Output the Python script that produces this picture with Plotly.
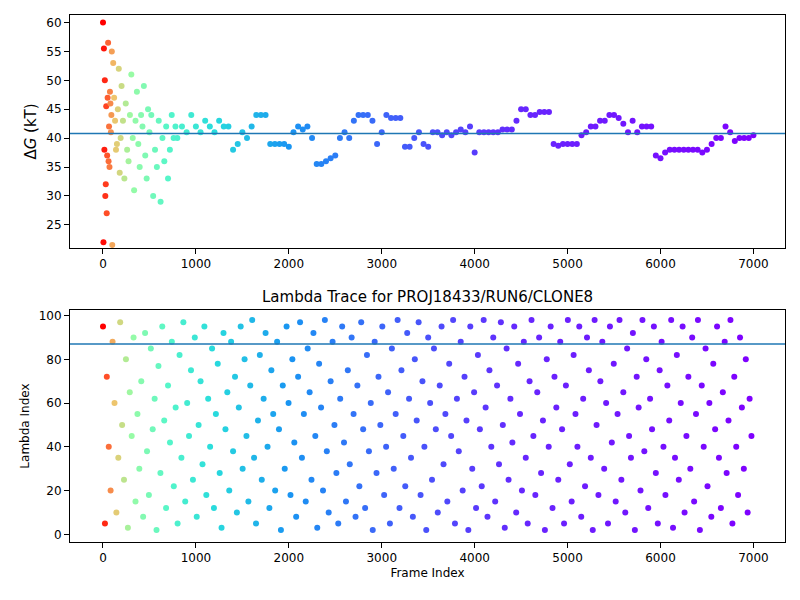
import plotly.graph_objects as go
import math

# Early scattered Delta G estimates (frame, value)
early_frames = [0,5,10,15,20,25,30,35,40,45,50,55,60,65,70,75,80,85,90,95,100,110,120,130,140,150,160,170,180,190,200,
                215,230,245,260,275,290,305,320,335,350,365,380,395,410,425,440,455,470,485,500,520,540,560,580,600,620,640,660,680,700,720,740,760,780]
early_values = [60,22,55.5,38,50,30,32,45.5,27,37,47,56.5,36,42,35,48,46,41,44,55,21.5,53,47,43,38,39,45,52,34,40,49,
                43,33,46,38,36,44,51,40,31,43,48,39,35,44,42,49,37,33,45,41,44,30,38,35,43,29,40,36,42,33,38,44,40,42]

late_frames = list(range(800, 7001, 50))
late_values = [40,42,41,44,42,41,43,42,41,43,42,42,38,39,41,40,42,44,44,44,39,39,39,39,38.5,41,42,41.5,42,40,
               35.5,35.5,36,36.5,37,40,41,40,43,44,44,44,43,39,41,44,43.5,43.5,43.5,38.5,38.5,40,41,39,38.5,41,41,40.5,41,40.5,
               41,41.5,41,42,37.5,41,41,41,41,41,41.5,41.5,41.5,43,45,45,44,44,44.5,44.5,44.5,39,38.7,39,39,39,39,40.5,41,42,
               42,43,43,44,44,43.5,42.5,41,43,41,42,42,42,37,36.5,37.5,38,38,38,38,38,38,38,37.5,38,39,40,40,42,41,39.5,40,
               40,40,40.5,41.3]

lam_values = [95,5,72,40,20,88,60,10,35,97,50,25,80,3,65,45,90,15,55,30,
              70,8,92,38,18,85,48,62,2,77,28,95,52,12,68,42,88,22,58,5,
              82,35,97,15,60,45,75,25,90,8,50,70,32,95,18,62,40,85,12,55,
              78,28,3,92,48,65,20,88,38,72,10,58,95,30,80,45,15,68,98,35,
              5,52,82,25,62,92,40,12,75,55,20,88,48,2,68,30,95,60,18,80,
              42,8,72,97,35,55,15,85,65,25,92,45,3,78,58,20,98,38,10,70,
              88,50,28,5,62,95,42,15,75,32,90,55,8,68,22,97,48,12,82,38,
              60,2,88,28,72,50,95,18,40,65,5,85,30,55,98,12,75,45,22,92,
              62,35,8,80,52,97,18,70,40,2,90,60,25,85,48,10,68,95,32,55,
              15,78,45,98,5,62,38,88,20,72,52,2,95,30,65,12,82,48,22,98,
              58,8,75,40,90,15,68,32,97,50,3,85,25,62,42,95,10,78,55,20,
              88,35,5,70,98,45,18,65,90,28,52,2,80,40,95,12,72,58,25,88,
              48,5,68,98,32,15,82,55,40,95,8,62,22,90,75,35,2,98,50,18,
              70,88,30,60,5,95,42,78,15,55,98,25,65,10,85,45,35,92,2,72,
              58,20,98,38,80,12,62,48,95,28,5,75,88,40,18,68,52,98,3,35,
              82,25,60,95,10,45,72,30,90,15,55,98,2,68,40,85,22,60,8,78,
              48,95,35,12,65,88,28,52,98,5,72,40,18,90,58,30,80,10,62,45]
lam_frames = [round(i * 7000 / len(lam_values)) for i in range(len(lam_values))]

def rainbow(x):
    r = min(1, abs(2 * x - 0.5)); g = math.sin(math.pi * x); b = math.cos(math.pi * x / 2)
    return f"rgb({int(r*255)},{int(g*255)},{int(max(b,0)*255)})"
# colour stops: (frame fraction, rainbow position)
stops = [(0, 1.0), (40/7000, 0.9), (120/7000, 0.72), (300/7000, 0.55), (700/7000, 0.42),
         (1200/7000, 0.33), (2000/7000, 0.2), (3000/7000, 0.13), (4500/7000, 0.05), (1, 0.0)]
cscale = [[f, rainbow(r)] for f, r in stops]

fig = go.Figure()
fig.add_trace(go.Scatter(x=early_frames + late_frames, y=early_values + late_values, mode="markers",
                         marker=dict(size=6, color=early_frames + late_frames, colorscale=cscale, cmin=0, cmax=7000),
                         showlegend=False, xaxis="x", yaxis="y"))
fig.add_trace(go.Scatter(x=lam_frames, y=lam_values, mode="markers",
                         marker=dict(size=6, color=lam_frames, colorscale=cscale, cmin=0, cmax=7000),
                         showlegend=False, xaxis="x2", yaxis="y2"))
fig.add_shape(type="line", xref="x domain", yref="y", x0=0, x1=1, y0=40.8, y1=40.8, line=dict(color="#1f77b4", width=1.5))
fig.add_shape(type="line", xref="x2 domain", yref="y2", x0=0, x1=1, y0=87, y1=87, line=dict(color="#1f77b4", width=1.5))

ax = dict(showgrid=False, zeroline=False, showline=True, mirror=True, linecolor="black", automargin=False,
          ticks="outside", tickcolor="black", tickfont=dict(size=12, color="black"))
xt = dict(range=[-355, 7340], tickvals=list(range(0, 7001, 1000)), **ax)
fig.update_layout(
    width=800, height=600, margin=dict(l=62, r=23, t=7, b=66),
    plot_bgcolor="white", paper_bgcolor="white", font=dict(family="DejaVu Sans"),
    xaxis=dict(domain=[0, 1], anchor="y", **xt),
    xaxis2=dict(domain=[0, 1], anchor="y2",
                title=dict(text="Frame Index", font=dict(size=12, color="black"), standoff=4), **xt),
    yaxis=dict(domain=[0.558, 1], anchor="x", range=[21, 61.3], tickvals=list(range(25, 61, 5)),
               title=dict(text="Δ<i>G</i> (kT)", font=dict(size=15, color="black"), standoff=6), **ax),
    yaxis2=dict(domain=[0, 0.44], anchor="x2", range=[-3.5, 102.5], tickvals=list(range(0, 101, 20)),
                title=dict(text="Lambda Index", font=dict(size=12, color="black"), standoff=6), **ax),
)
fig.add_annotation(text="Lambda Trace for PROJ18433/RUN6/CLONE8", xref="x2 domain", yref="y2 domain",
                   x=0.5, y=1.01, xanchor="center", yanchor="bottom", showarrow=False,
                   font=dict(size=15, color="black"))
fig.write_html("out.html")
